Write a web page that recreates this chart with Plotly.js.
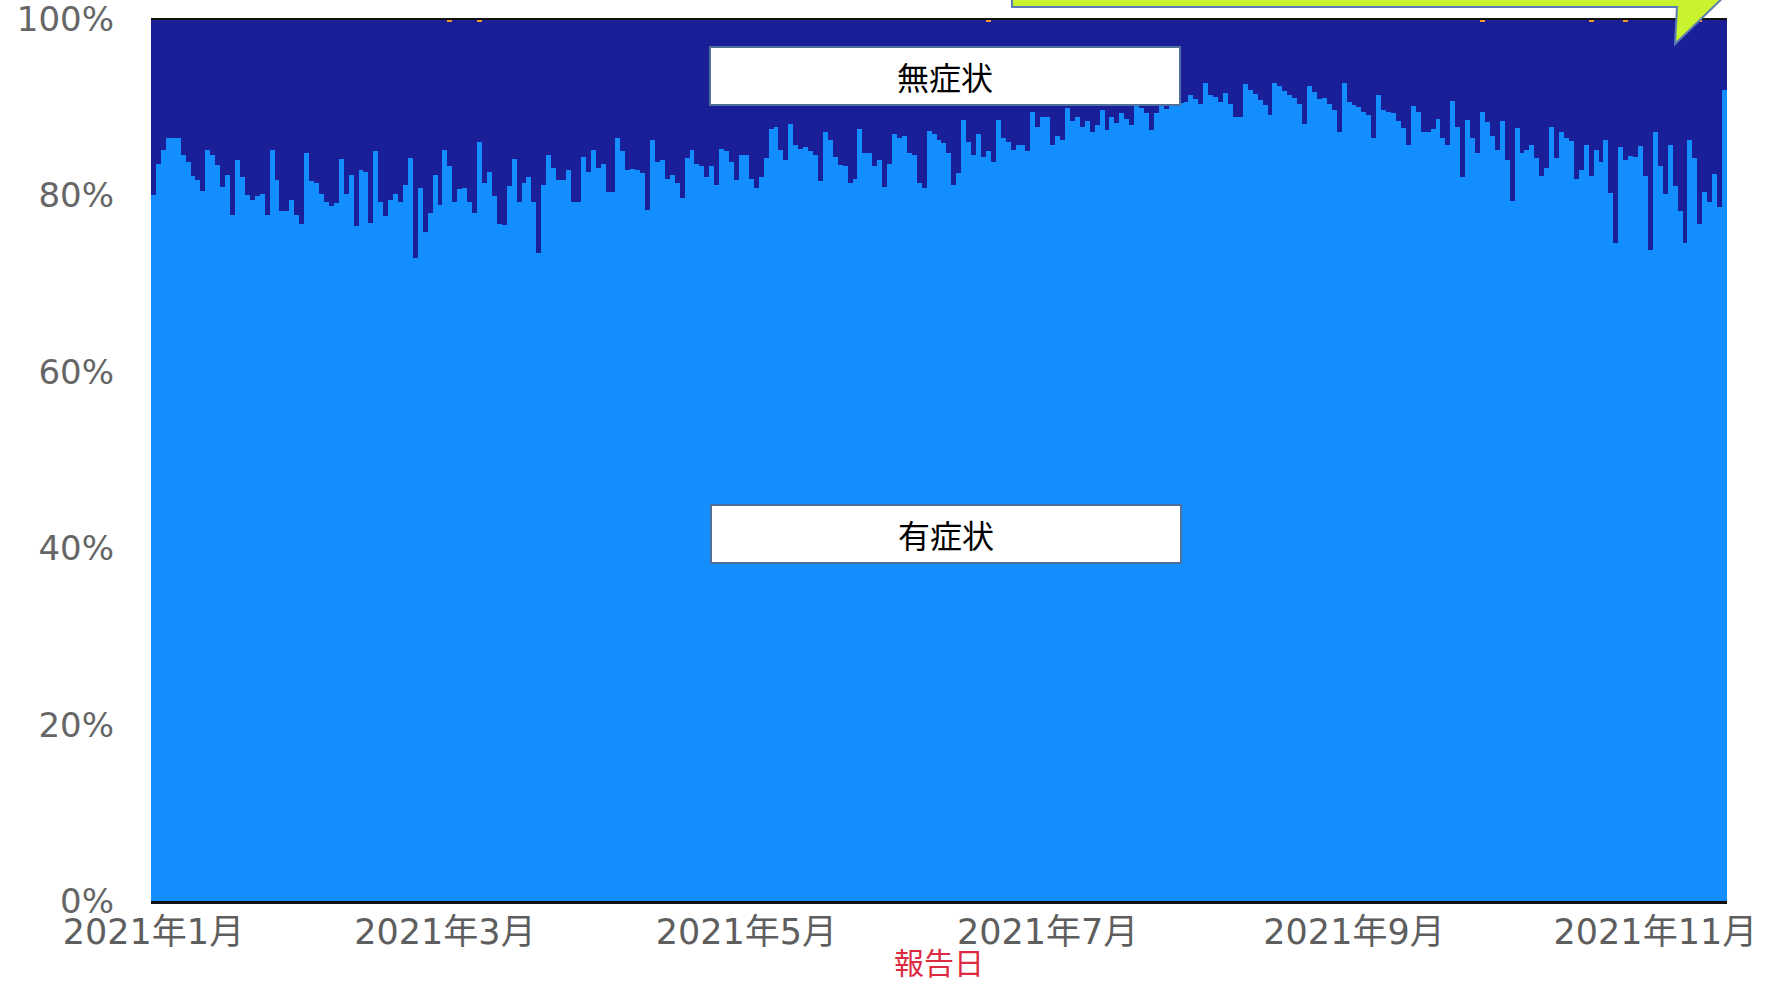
<!DOCTYPE html>
<html>
<head>
<meta charset="utf-8">
<script src="https://cdn.plot.ly/plotly-3.0.1.min.js"></script>
<style>
html,body{margin:0;padding:0;background:#fff;}
#chart{width:1781px;height:983px;}
</style>
</head>
<body>
<div id="chart"></div>
<script>
// ---- data ----
const startDate = '2021-01-01';

// 有症状 share (%) for each report day from 2021-01-01
const symptomatic = [
80.0,83.6,85.2,86.5,86.5,86.5,84.6,83.8,82.2,81.7,80.5,85.2,84.6,83.4,81.0,82.3,77.8,84.0,82.1,80.0,
79.5,79.9,80.2,77.8,85.2,81.7,78.2,78.2,79.5,77.8,76.8,84.8,81.6,81.4,80.2,79.3,78.8,79.1,84.1,80.2,
82.3,76.5,82.9,82.7,76.9,85.0,79.3,77.7,79.5,80.2,79.3,81.2,84.2,72.9,80.8,75.9,78.0,82.3,78.9,85.2,
83.6,79.3,80.7,80.8,79.3,78.0,86.3,81.4,82.7,79.9,76.8,76.6,81.1,84.1,79.3,81.4,82.1,79.2,73.5,81.2,
84.6,83.1,81.8,81.8,82.9,79.2,79.2,84.3,82.6,85.2,83.1,83.6,80.4,80.4,86.5,85.0,82.9,83.0,82.9,82.5,
78.4,86.3,83.8,84.0,81.9,82.3,81.4,79.7,84.2,85.2,83.6,83.3,82.1,83.3,81.2,85.3,85.0,83.8,81.7,84.6,
84.6,81.9,80.8,82.1,84.2,87.5,87.8,85.2,84.0,88.1,85.7,85.3,85.5,85.0,84.6,81.6,87.2,86.3,84.3,83.4,
83.3,81.4,81.9,87.5,84.8,84.8,83.3,84.0,81.0,83.6,87.0,86.5,86.7,84.8,84.6,81.4,80.8,87.3,87.0,86.3,
85.9,84.8,81.2,82.5,88.5,86.1,84.6,87.0,84.4,85.3,83.8,88.6,86.5,86.1,85.2,85.7,85.7,85.0,89.5,87.8,
88.9,88.9,85.7,86.7,86.3,89.9,88.4,88.9,87.8,88.4,87.2,88.0,89.7,87.4,88.9,88.2,89.3,88.7,88.0,90.1,
89.9,89.3,87.4,89.3,90.1,89.8,90.1,90.3,90.5,90.6,91.4,90.9,90.4,92.7,91.4,91.2,90.6,91.6,90.4,88.9,
88.9,92.6,91.9,91.5,90.8,90.3,89.1,92.8,92.4,91.8,91.4,91.1,90.4,88.1,92.4,91.7,90.9,91.0,90.4,89.7,
87.2,92.7,90.6,90.3,90.0,89.5,89.1,86.5,91.4,89.7,89.5,89.3,88.4,87.6,85.7,90.1,89.5,87.2,87.2,87.5,
88.7,86.5,85.7,90.7,87.8,82.1,88.6,86.5,84.8,89.7,88.3,86.7,85.2,88.4,84.0,79.4,87.6,84.8,85.2,85.7,
84.2,82.2,83.1,87.7,84.2,87.2,86.5,86.2,81.9,82.9,85.7,82.5,85.2,83.8,86.3,80.3,74.6,85.5,84.3,84.5,
84.3,85.6,82.2,73.8,87.2,83.3,80.2,85.7,81.1,78.2,74.6,86.3,84.2,77.0,80.4,79.2,82.4,78.7,91.9
];

// 無症状 share (%) for each report day
const asymptomatic = [
20.0,16.4,14.8,13.5,13.5,13.5,15.4,16.2,17.8,18.3,19.5,14.8,15.4,16.6,19.0,17.7,22.2,16.0,17.9,20.0,
20.5,20.1,19.8,22.2,14.8,18.3,21.8,21.8,20.5,22.2,23.2,15.2,18.4,18.6,19.8,20.7,21.2,20.9,15.9,19.8,
17.7,23.5,17.1,17.3,23.1,15.0,20.7,22.3,20.5,19.8,20.7,18.8,15.8,27.1,19.2,24.1,22.0,17.7,21.1,14.8,
16.4,20.7,19.3,19.2,20.7,22.0,13.7,18.6,17.3,20.1,23.2,23.4,18.9,15.9,20.7,18.6,17.9,20.8,26.5,18.8,
15.4,16.9,18.2,18.2,17.1,20.8,20.8,15.7,17.4,14.8,16.9,16.4,19.6,19.6,13.5,15.0,17.1,17.0,17.1,17.5,
21.6,13.7,16.2,16.0,18.1,17.7,18.6,20.3,15.8,14.8,16.4,16.7,17.9,16.7,18.8,14.7,15.0,16.2,18.3,15.4,
15.4,18.1,19.2,17.9,15.8,12.5,12.2,14.8,16.0,11.9,14.3,14.7,14.5,15.0,15.4,18.4,12.8,13.7,15.7,16.6,
16.7,18.6,18.1,12.5,15.2,15.2,16.7,16.0,19.0,16.4,13.0,13.5,13.3,15.2,15.4,18.6,19.2,12.7,13.0,13.7,
14.1,15.2,18.8,17.5,11.5,13.9,15.4,13.0,15.6,14.7,16.2,11.4,13.5,13.9,14.8,14.3,14.3,15.0,10.5,12.2,
11.1,11.1,14.3,13.3,13.7,10.1,11.6,11.1,12.2,11.6,12.8,12.0,10.3,12.6,11.1,11.8,10.7,11.3,12.0,9.9,
10.1,10.7,12.6,10.7,9.9,10.2,9.9,9.7,9.5,9.4,8.6,9.1,9.6,7.3,8.6,8.8,9.4,8.4,9.6,11.1,
11.1,7.4,8.1,8.5,9.2,9.7,10.9,7.2,7.6,8.2,8.6,8.9,9.6,11.9,7.6,8.3,9.1,9.0,9.6,10.3,
12.8,7.3,9.4,9.7,10.0,10.5,10.9,13.5,8.6,10.3,10.5,10.7,11.6,12.4,14.3,9.9,10.5,12.8,12.8,12.5,
11.3,13.5,14.3,9.3,12.2,17.9,11.4,13.5,15.2,10.3,11.7,13.3,14.8,11.6,16.0,20.6,12.4,15.2,14.8,14.3,
15.8,17.8,16.9,12.3,15.8,12.8,13.5,13.8,18.1,17.1,14.3,17.5,14.8,16.2,13.7,19.7,25.4,14.5,15.7,15.5,
15.7,14.4,17.8,26.2,12.8,16.7,19.8,14.3,18.9,21.8,25.4,13.7,15.8,23.0,19.6,20.8,17.6,21.3,8.1
];

// tiny "不明" slivers visible at the very top
const unknownDates = ['2021-03-02','2021-03-08','2021-06-19','2021-09-27','2021-10-19','2021-10-26','2021-11-10'];
const unknownVals  = [0.3,0.3,0.3,0.3,0.3,0.3,0.3];

const tickDates  = ['2021-01-01','2021-03-01','2021-05-01','2021-07-01','2021-09-01','2021-11-01'];
const tickLabels = ['2021年1月','2021年3月','2021年5月','2021年7月','2021年9月','2021年11月'];
const yTicks     = [0,20,40,60,80,100];
const yTickText  = ['0%','20%','40%','60%','80%','100%'];
const xTitle     = '報告日';

// ---- build date categories ----
function buildDates(start, n){
  const out = [];
  const d0 = new Date(start + 'T00:00:00Z');
  for (let i = 0; i < n; i++){
    const d = new Date(d0.getTime() + i*86400000);
    out.push(d.toISOString().slice(0,10));
  }
  return out;
}
const dates = buildDates(startDate, symptomatic.length);

const traces = [
  {type:'bar', name:'有症状', x:dates, y:symptomatic,
   marker:{color:'#138eff', line:{width:0}}, hoverinfo:'skip'},
  {type:'bar', name:'無症状', x:dates, y:asymptomatic,
   marker:{color:'#1a1f98', line:{width:0}}, hoverinfo:'skip'},
  {type:'bar', name:'不明', x:unknownDates, y:unknownVals,
   marker:{color:'#f2962c', line:{width:0}}, hoverinfo:'skip'}
];

// pixel -> paper helpers for decorations
const PL = 151, PR = 1727, PT = 19, PB = 901;
const px = v => (v - PL) / (PR - PL);
const py = v => 1 - (v - PT) / (PB - PT);
const calloutPath = 'M ' + [
  [1012,-12],[1012,7],[1677,7],[1675,44],[1733,-12]
].map(p => px(p[0]).toFixed(5) + ',' + py(p[1]).toFixed(5)).join(' L ') + ' Z';

const layout = {
  width:1781, height:983,
  margin:{l:PL, r:1781-PR, t:PT, b:983-PB, pad:0},
  paper_bgcolor:'#ffffff', plot_bgcolor:'#ffffff',
  barmode:'stack', barnorm:'percent', bargap:0,
  showlegend:false,
  font:{family:'DejaVu Sans, "Noto Sans CJK JP", sans-serif', color:'#5e5e5e'},
  xaxis:{
    type:'date',
    range:['2020-12-31 12:00','2021-11-15 12:00'],
    tickmode:'array', tickvals:tickDates, ticktext:tickLabels,
    ticks:'', showgrid:false, zeroline:false,
    showline:true, linecolor:'#111111', linewidth:3,
    tickfont:{size:35, color:'#5e5e5e', family:'DejaVu Sans, "Noto Sans CJK JP", sans-serif'},
    ticklabelstandoff:-2, ticklabeloverflow:'allow'
  },
  yaxis:{
    range:[0,100], tickmode:'array', tickvals:yTicks, ticktext:yTickText,
    ticks:'', showgrid:false, zeroline:false, showline:false,
    tickfont:{size:34, color:'#666666', family:'DejaVu Sans, sans-serif'},
    ticklabelstandoff:36, ticklabeloverflow:'allow'
  },
  shapes:[
    {type:'line', xref:'paper', yref:'paper', x0:0, x1:1, y0:1, y1:1,
     line:{color:'#111111', width:2}, layer:'above'},
    {type:'path', xref:'paper', yref:'paper', path:calloutPath,
     fillcolor:'#c9f22f', line:{color:'#5b7db3', width:2}, layer:'above'}
  ],
  annotations:[
    {xref:'paper', yref:'paper', x:px(945), y:py(76), xanchor:'center', yanchor:'middle',
     text:'無症状', showarrow:false, width:468, height:56, align:'center', valign:'middle',
     bgcolor:'#ffffff', bordercolor:'#4f6f9c', borderwidth:2, borderpad:0,
     font:{size:32, color:'#000000', family:'"Noto Sans CJK JP", sans-serif'}},
    {xref:'paper', yref:'paper', x:px(946), y:py(533.5), xanchor:'center', yanchor:'middle',
     text:'有症状', showarrow:false, width:468, height:56, align:'center', valign:'middle',
     bgcolor:'#ffffff', bordercolor:'#4f6f9c', borderwidth:2, borderpad:0,
     font:{size:32, color:'#000000', family:'"Noto Sans CJK JP", sans-serif'}},
    {xref:'paper', yref:'paper', x:0.5, y:py(961), xanchor:'center', yanchor:'middle',
     text:xTitle, showarrow:false,
     font:{size:30, color:'#dc2a40', family:'"Noto Sans CJK JP", sans-serif'}}
  ]
};

Plotly.newPlot('chart', traces, layout, {displayModeBar:false, staticPlot:true});
</script>
</body>
</html>
